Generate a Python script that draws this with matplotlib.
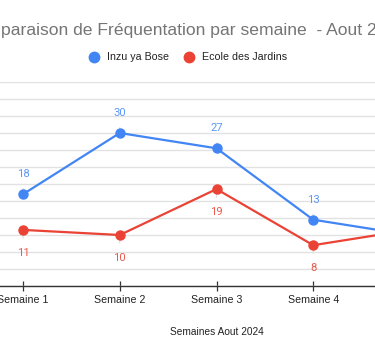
import numpy as np
import matplotlib.pyplot as plt

# Fréquentation hebdomadaire - Aout 2024
semaines = ["Semaine 1", "Semaine 2", "Semaine 3", "Semaine 4", "Semaine 5"]
inzu_ya_bose = [18, 30, 27, 13, 10]
ecole_des_jardins = [11, 10, 19, 8, 11]

blue = "#4285F4"
red = "#EA4335"

plt.rcParams["font.family"] = ["Liberation Sans", "DejaVu Sans"]

W, H = 375, 356
fig = plt.figure(figsize=(W / 100, H / 100), dpi=100)

# the original chart is wider than the picture: the axes run past both edges
left_px, right_px = -25.3, 458.3
bottom_px, top_px = 70, 274
ax = fig.add_axes([left_px / W, bottom_px / H, (right_px - left_px) / W, (top_px - bottom_px) / H])

x = np.arange(len(semaines))
ax.plot(x, inzu_ya_bose, color=blue, lw=1.6, marker="o", ms=6.5, zorder=3, clip_on=False)
ax.plot(x, ecole_des_jardins, color=red, lw=1.6, marker="o", ms=6.5, zorder=3, clip_on=False)

for xi, v in zip(x, inzu_ya_bose):
    ax.annotate(str(v), xy=(xi, v), xytext=(0, 14.5), textcoords="offset points",
                ha="center", va="center", fontsize=8.1, color="#5e97f6", family="Roboto",
                zorder=1, annotation_clip=True,
                arrowprops=dict(arrowstyle="-", color="#e0e0e0", lw=0.9, shrinkA=5, shrinkB=0))
for xi, v in zip(x, ecole_des_jardins):
    ax.annotate(str(v), xy=(xi, v), xytext=(0, -16.5), textcoords="offset points",
                ha="center", va="center", fontsize=8.1, color="#ea5b4f", family="Roboto",
                zorder=1, annotation_clip=True,
                arrowprops=dict(arrowstyle="-", color="#e0e0e0", lw=0.9, shrinkA=5, shrinkB=0))

ax.set_xlim(-0.5, len(semaines) - 0.5)
ax.set_ylim(0, 40)
ax.set_yticks(np.linspace(0, 40, 13))
ax.yaxis.grid(True, color="#e2e2e2", lw=1.0)
ax.set_axisbelow(True)
ax.tick_params(axis="y", length=0, labelleft=False)

ax.set_xticks(x)
ax.set_xticklabels(semaines, fontsize=7.7, color="#222222")
ax.tick_params(axis="x", direction="inout", length=7.2, width=0.9, color="#333333", pad=3)

for s in ["top", "right", "left"]:
    ax.spines[s].set_visible(False)
ax.spines["bottom"].set_color("#333333")
ax.spines["bottom"].set_linewidth(1.0)

fig.text(216.5 / W, 1 - 331.7 / H, "Semaines Aout 2024", ha="center", va="center",
         fontsize=7.3, color="#222222")

fig.text(-36 / W, 1 - 30 / H, "Comparaison de Fréquentation par semaine  - Aout 2024",
         ha="left", va="center", fontsize=12.6, color="#757575")

# legend
fig.lines.append(plt.Line2D([94 / W], [1 - 57 / H], marker="o", ms=7.5, color=blue,
                            transform=fig.transFigure))
fig.text(107 / W, 1 - 57 / H, "Inzu ya Bose", ha="left", va="center", fontsize=7.7, color="#222222")
fig.lines.append(plt.Line2D([189 / W], [1 - 57 / H], marker="o", ms=7.5, color=red,
                            transform=fig.transFigure))
fig.text(202 / W, 1 - 57 / H, "Ecole des Jardins", ha="left", va="center", fontsize=7.7, color="#222222")

fig.savefig("out.png", dpi=100, facecolor="white")
